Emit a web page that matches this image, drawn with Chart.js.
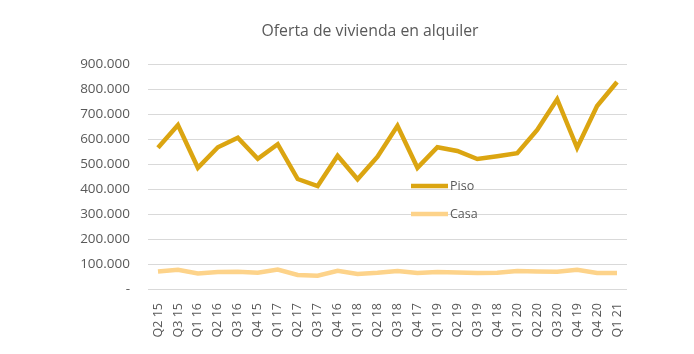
<!DOCTYPE html>
<html>
<head>
<meta charset="utf-8">
<script src="https://cdn.jsdelivr.net/npm/chart.js@4/dist/chart.umd.min.js"></script>
<style>
  html, body { margin: 0; padding: 0; background: #fff; }
  #wrap { width: 694px; height: 354px; position: relative; }
</style>
</head>
<body>
<div id="wrap"><canvas id="chart"></canvas></div>
<script>
const categories = ['Q2 15', 'Q3 15', 'Q1 16', 'Q2 16', 'Q3 16', 'Q4 15', 'Q1 17', 'Q2 17',
  'Q3 17', 'Q4 16', 'Q1 18', 'Q2 18', 'Q3 18', 'Q4 17', 'Q1 19', 'Q2 19', 'Q3 19', 'Q4 18',
  'Q1 20', 'Q2 20', 'Q3 20', 'Q4 19', 'Q4 20', 'Q1 21'];

const piso = [565000, 656000, 485000, 567000, 605000, 521000, 579000, 440000,
  412000, 533000, 439000, 529000, 653000, 485000, 567000, 552000, 520000, 531000,
  543000, 636000, 759000, 565000, 732000, 828000];

const casa = [70000, 77000, 62000, 68000, 69000, 65000, 78000, 56000,
  53000, 73000, 60000, 65000, 72000, 64000, 68000, 66000, 64000, 65000,
  72000, 70000, 69000, 77000, 64000, 64000];

const title = 'Oferta de vivienda en alquiler';
const font = "'Open Sans', 'Liberation Sans', sans-serif";
const textColor = '#595959';
const pisoColor = '#DBA511';
const casaColor = '#FDD38A';

// title and in-plot legend drawn by hand
const decor = {
  id: 'decor',
  afterDraw(chart) {
    const ctx = chart.ctx;
    ctx.save();
    ctx.fillStyle = textColor;
    ctx.font = '15.8px ' + font;
    ctx.textAlign = 'center';
    ctx.textBaseline = 'middle';
    ctx.fillText(title, 370, 31);

    const items = [['Piso', pisoColor, 186], ['Casa', casaColor, 214]];
    ctx.font = '12.5px ' + font;
    ctx.textAlign = 'left';
    items.forEach(([label, color, y]) => {
      ctx.strokeStyle = color;
      ctx.lineWidth = 4.5;
      ctx.beginPath();
      ctx.moveTo(411, y);
      ctx.lineTo(448, y);
      ctx.stroke();
      ctx.fillText(label, 450, y);
    });
    ctx.restore();
  }
};

new Chart(document.getElementById('chart'), {
  type: 'line',
  data: {
    labels: categories,
    datasets: [
      { label: 'Piso', data: piso, borderColor: pisoColor, borderWidth: 4.5, pointRadius: 0, tension: 0 },
      { label: 'Casa', data: casa, borderColor: casaColor, borderWidth: 4.5, pointRadius: 0, tension: 0 }
    ]
  },
  options: {
    responsive: true,
    maintainAspectRatio: false,
    animation: false,
    layout: { padding: { top: 64, right: 67, left: 0, bottom: 0 } },
    plugins: { legend: { display: false }, title: { display: false }, tooltip: { enabled: false } },
    scales: {
      x: {
        offset: true,
        grid: { display: false },
        border: { display: false },
        ticks: {
          color: textColor, font: { family: font, size: 12.5 },
          minRotation: 90, maxRotation: 90, autoSkip: false, padding: 6
        },
        afterFit(scale) { scale.height = 65; }
      },
      y: {
        min: 0, max: 900000,
        grid: { color: '#D9D9D9', drawTicks: false },
        border: { display: false },
        ticks: {
          stepSize: 100000, padding: 18,
          color: textColor, font: { family: font, size: 13.5 },
          callback: v => v === 0 ? '-' : v.toLocaleString('de-DE')
        },
        afterFit(scale) { scale.width = 148; }
      }
    }
  },
  plugins: [decor]
});
</script>
</body>
</html>
